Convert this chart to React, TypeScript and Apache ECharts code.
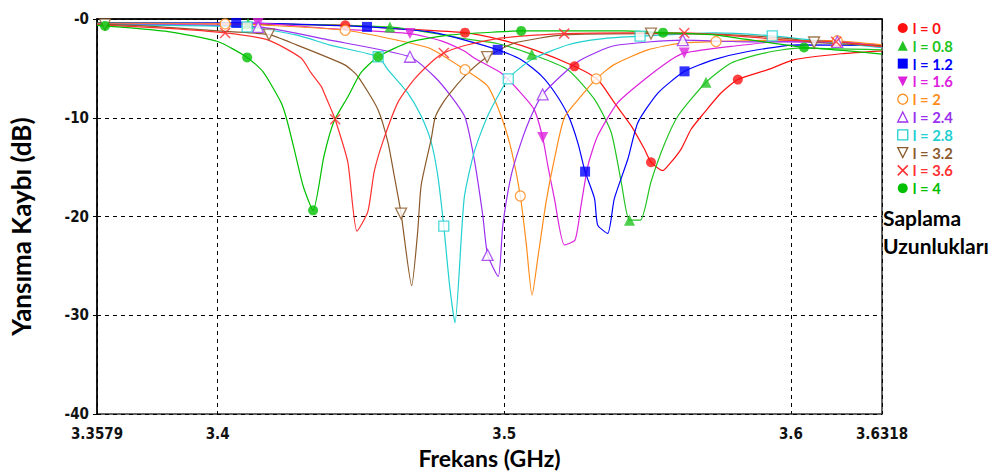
import React, { useEffect, useRef } from "react";
import * as echarts from "echarts";

// ---- Data (frequency in GHz, return loss in dB) ----
const seriesNames = ["l = 0", "l = 0.8", "l = 1.2", "l = 1.6", "l = 2", "l = 2.4", "l = 2.8", "l = 3.2", "l = 3.6", "l = 4"];
const xTickValues = [3.3579, 3.4, 3.5, 3.6, 3.6318];
const yMin = -40;
const yMax = 0;
const yStep = 10;

const l0Line = [[3.3579,-0.4],[3.3827,-0.45],[3.4,-0.5],[3.4445,-0.63],[3.4626,-0.97],[3.4863,-1.38],[3.4989,-2.11],[3.5105,-3.12],[3.5245,-4.79],[3.5326,-6.13],[3.5384,-8.47],[3.5443,-10.82],[3.5489,-13.17],[3.5512,-14.5],[3.5553,-15.35],[3.5582,-14.5],[3.5617,-13.17],[3.5652,-11.16],[3.5698,-9.48],[3.5757,-7.47],[3.5815,-6.13],[3.592,-5.13],[3.6013,-4.12],[3.6175,-3.52],[3.6318,-3.22]];
const l0Marks = [[3.4445,-0.63],[3.4863,-1.38],[3.5245,-4.79],[3.5512,-14.5],[3.5815,-6.13]];

const l08Line = [[3.3579,-0.4],[3.3827,-0.42],[3.4106,-0.45],[3.4601,-0.8],[3.4741,-1.38],[3.4859,-1.98],[3.4975,-2.48],[3.5096,-3.58],[3.5222,-5.13],[3.5315,-8.14],[3.5373,-11.46],[3.5408,-16.48],[3.5437,-20.37],[3.5475,-20.37],[3.5512,-16.48],[3.5559,-12.66],[3.5606,-9.82],[3.5704,-6.4],[3.5792,-4.45],[3.5908,-3.45],[3.6025,-2.94],[3.6318,-3.12]];
const l08Marks = [[3.4106,-0.45],[3.4601,-0.8],[3.5096,-3.58],[3.5437,-20.37],[3.5704,-6.4]];

const l12Line = [[3.3579,-0.45],[3.4065,-0.4],[3.4521,-0.8],[3.4741,-1.31],[3.4859,-2.11],[3.4977,-3.12],[3.5059,-4.12],[3.5129,-5.73],[3.5181,-7.64],[3.5226,-9.95],[3.5258,-12.66],[3.5282,-15.45],[3.5315,-18.19],[3.5326,-20.87],[3.5361,-21.71],[3.5384,-18.19],[3.5431,-14.2],[3.5466,-10.5],[3.5536,-7.5],[3.5629,-5.3],[3.5732,-4.12],[3.585,-3.29],[3.6025,-2.61],[3.6318,-2.71]];
const l12Marks = [[3.4065,-0.4],[3.4521,-0.8],[3.4977,-3.12],[3.5282,-15.45],[3.5629,-5.3]];

const l16Line = [[3.3579,-0.5],[3.4141,-0.45],[3.4392,-0.97],[3.4671,-1.48],[3.478,-2.21],[3.4859,-3.22],[3.4895,-3.95],[3.4989,-5.46],[3.5047,-7.14],[3.5104,-9.15],[3.5134,-11.99],[3.5152,-14.84],[3.5175,-18.19],[3.521,-22.88],[3.5247,-22.38],[3.5268,-18.86],[3.5292,-14.84],[3.5326,-11.83],[3.5396,-8.47],[3.5489,-6.13],[3.5582,-4.12],[3.5628,-3.45],[3.5792,-2.78],[3.5966,-2.28],[3.6318,-2.61]];
const l16Marks = [[3.4141,-0.45],[3.4671,-1.48],[3.5134,-11.99],[3.5628,-3.45]];

const l2Line = [[3.3579,-0.5],[3.4026,-0.5],[3.4445,-1.14],[3.4626,-2.14],[3.4741,-2.98],[3.4863,-5.13],[3.4942,-6.8],[3.4989,-9.82],[3.5024,-13.17],[3.5056,-17.92],[3.5076,-22.54],[3.5097,-27.97],[3.5117,-24.22],[3.5146,-18.52],[3.5175,-14.17],[3.521,-9.95],[3.5268,-7.81],[3.5321,-6.06],[3.5383,-4.62],[3.5501,-3.12],[3.5617,-2.44],[3.5739,-2.28],[3.5966,-2.14],[3.6162,-2.21],[3.6318,-2.61]];
const l2Marks = [[3.4026,-0.5],[3.4445,-1.14],[3.4863,-5.13],[3.5056,-17.92],[3.5321,-6.06],[3.5739,-2.28],[3.6162,-2.21]];

const l24Line = [[3.3579,-0.55],[3.4141,-0.8],[3.4392,-2.14],[3.4671,-3.82],[3.4755,-5.8],[3.4814,-7.81],[3.4863,-9.95],[3.4895,-14.17],[3.4925,-19.87],[3.4942,-23.89],[3.4979,-26.06],[3.4995,-20.87],[3.5024,-15.85],[3.5059,-12.46],[3.5094,-9.82],[3.5134,-7.64],[3.5209,-5.46],[3.5268,-4.12],[3.5383,-2.71],[3.5623,-2.14],[3.5851,-2.31],[3.6162,-2.31],[3.6318,-2.81]];
const l24Marks = [[3.4141,-0.8],[3.4671,-3.82],[3.4942,-23.89],[3.5134,-7.64],[3.5623,-2.14],[3.6162,-2.31]];

const l28Line = [[3.3579,-0.6],[3.3827,-0.65],[3.4103,-0.8],[3.4277,-1.64],[3.4392,-2.64],[3.456,-3.82],[3.4594,-5.13],[3.4663,-7.47],[3.471,-9.82],[3.4745,-12.46],[3.4768,-15.85],[3.4789,-20.97],[3.4809,-26.9],[3.4828,-30.75],[3.486,-18.19],[3.4895,-13.47],[3.4942,-9.82],[3.5014,-6.06],[3.5094,-4.12],[3.5223,-2.61],[3.5338,-2.01],[3.5474,-1.74],[3.5732,-1.41],[3.5935,-1.71],[3.613,-2.31],[3.6318,-2.91]];
const l28Marks = [[3.4103,-0.8],[3.456,-3.82],[3.4789,-20.97],[3.5014,-6.06],[3.5474,-1.74],[3.5935,-1.71]];

const l32Line = [[3.3579,-0.55],[3.3607,-0.55],[3.3827,-0.85],[3.4,-1.2],[3.4179,-1.58],[3.4277,-2.64],[3.4392,-3.99],[3.4448,-4.72],[3.4489,-5.8],[3.4559,-9.15],[3.4594,-12.46],[3.4616,-15.85],[3.464,-19.7],[3.4677,-27.0],[3.4698,-21.51],[3.471,-16.85],[3.4745,-12.16],[3.4759,-9.95],[3.4787,-8.44],[3.4821,-7.14],[3.4873,-5.46],[3.494,-3.85],[3.5034,-2.44],[3.5209,-1.61],[3.5512,-1.48],[3.5757,-1.56],[3.6001,-2.01],[3.6081,-2.38],[3.6318,-2.71]];
const l32Marks = [[3.3607,-0.55],[3.4179,-1.58],[3.464,-19.7],[3.494,-3.85],[3.5512,-1.48],[3.6081,-2.38]];

const l36Line = [[3.3579,-0.6],[3.3827,-0.95],[3.4026,-1.41],[3.4175,-2.11],[3.4291,-3.95],[3.4326,-5.46],[3.4361,-6.8],[3.4371,-7.44],[3.4396,-9.15],[3.441,-10.15],[3.4454,-14.47],[3.4486,-21.48],[3.4524,-19.5],[3.4546,-15.48],[3.4576,-12.46],[3.4629,-8.44],[3.4685,-6.13],[3.4755,-4.12],[3.4789,-3.45],[3.4859,-2.71],[3.4975,-1.98],[3.5094,-1.66],[3.5209,-1.48],[3.5418,-1.41],[3.5628,-1.41],[3.585,-1.81],[3.6001,-2.16],[3.6158,-2.31],[3.6318,-2.81]];
const l36Marks = [[3.4026,-1.41],[3.441,-10.15],[3.4789,-3.45],[3.5209,-1.48],[3.5628,-1.41],[3.6158,-2.31]];

const l4Line = [[3.3579,-0.65],[3.3607,-0.7],[3.3827,-1.28],[3.4,-2.28],[3.4103,-3.89],[3.4158,-5.33],[3.4221,-8.44],[3.4239,-9.95],[3.4267,-13.17],[3.4298,-16.88],[3.4333,-19.37],[3.4371,-13.87],[3.4406,-10.35],[3.4455,-7.84],[3.45,-5.43],[3.456,-3.82],[3.4671,-2.31],[3.4814,-1.61],[3.4975,-1.31],[3.5059,-1.21],[3.5418,-1.21],[3.5554,-1.38],[3.5732,-1.6],[3.59,-2.3],[3.6046,-2.88],[3.62,-3.22],[3.6318,-3.55]];
const l4Marks = [[3.3607,-0.7],[3.4103,-3.89],[3.4333,-19.37],[3.456,-3.82],[3.5059,-1.21],[3.5554,-1.38],[3.6046,-2.88]];

const lineData = [l0Line, l08Line, l12Line, l16Line, l2Line, l24Line, l28Line, l32Line, l36Line, l4Line];
const markData = [l0Marks, l08Marks, l12Marks, l16Marks, l2Marks, l24Marks, l28Marks, l32Marks, l36Marks, l4Marks];

// ---- Styles ----
const colors = ["#ff1010", "#22c422", "#0000ff", "#dd22dd", "#ff8c1a", "#9a30f0", "#22d0d0", "#8b5a2b", "#ff3030", "#00c000"];
const DOWN_TRI = "path://M0,0L10,0L5,10Z";
const CROSS = "path://M0,0L10,10M10,0L0,10";
const symbols = ["circle", "triangle", "rect", DOWN_TRI, "circle", "triangle", "rect", DOWN_TRI, CROSS, "circle"];
const kinds = ["fill", "fill", "fill", "fill", "hollow", "hollow", "hollow", "hollow", "cross", "fill"];
const symbolSizes = [10, 11, 10, 11, 10, 11, 10, 11, 10, 10];

const NARROW = "'Liberation Sans Narrow', 'DejaVu Sans Condensed', 'Liberation Sans', sans-serif";
const CAL = "Lato, 'Open Sans', sans-serif";

function markerStyle(i: number) {
  const c = colors[i];
  if (kinds[i] === "hollow") return { color: "#ffffff", borderColor: c, borderWidth: 1.3 };
  if (kinds[i] === "cross") return { color: "rgba(0,0,0,0)", borderColor: c, borderWidth: 1.5 };
  return { color: c, borderColor: c, borderWidth: 0 };
}

export default function App() {
  const ref = useRef<HTMLDivElement>(null);
  useEffect(() => {
    if (!ref.current) return;
    const chart = echarts.init(ref.current, undefined, { renderer: "svg" });
    const series: any[] = [];
    seriesNames.forEach((name, i) => {
      const merged = lineData[i].concat(markData[i]).slice().sort((a, b) => a[0] - b[0]);
      series.push({
        name,
        type: "line",
        data: merged,
        showSymbol: false,
        smooth: 0.2,
        lineStyle: { color: colors[i], width: 1.2 },
        itemStyle: { color: colors[i] },
        z: 2,
      });
      series.push({
        name,
        type: "scatter",
        data: markData[i],
        symbol: symbols[i],
        symbolSize: symbolSizes[i],
        itemStyle: markerStyle(i),
        z: 3,
      });
    });

    chart.setOption({
      animation: false,
      backgroundColor: "#ffffff",
      grid: {
        left: 96,
        right: 115,
        top: 19,
        bottom: 57,
        show: true,
        borderColor: "#333",
        borderWidth: 1.5,
        backgroundColor: "transparent",
      },
      legend: {
        orient: "vertical",
        left: 897,
        top: 20,
        padding: 0,
        itemWidth: 10,
        itemHeight: 10,
        itemGap: 1.8,
        selectedMode: false,
        textStyle: { fontFamily: CAL, fontWeight: "bold", fontSize: 14.8, lineHeight: 16 },
        data: seriesNames.map((n, i) => ({
          name: n,
          icon: symbols[i],
          itemStyle: markerStyle(i),
          textStyle: { color: colors[i] },
        })),
      },
      xAxis: {
        type: "value",
        min: xTickValues[0],
        max: xTickValues[xTickValues.length - 1],
        name: "Frekans (GHz)",
        nameLocation: "middle",
        nameGap: 31,
        nameTextStyle: { fontFamily: CAL, fontWeight: "bold", fontSize: 23, color: "#000" },
        axisLine: { lineStyle: { color: "#000", width: 1.5 } },
        axisTick: { show: true, length: 8, customValues: xTickValues, lineStyle: { color: "#000" } },
        axisLabel: {
          customValues: xTickValues,
          margin: 12,
          fontFamily: NARROW,
          fontWeight: "bold",
          fontSize: 15,
          color: "#111",
          formatter: (v: number) => String(v),
        },
        splitLine: { show: true, lineStyle: { color: "#000", type: [4, 4], width: 1 } },
      },
      yAxis: {
        type: "value",
        min: yMin,
        max: yMax,
        interval: yStep,
        name: "Yansıma Kaybı (dB)",
        nameLocation: "middle",
        nameRotate: 90,
        nameGap: 63,
        nameTextStyle: { fontFamily: CAL, fontWeight: "bold", fontSize: 26, color: "#000", padding: [0, 20, 0, 0] },
        axisLine: { show: true, lineStyle: { color: "#000", width: 1.5 } },
        axisTick: { show: true, length: 4, lineStyle: { color: "#000" } },
        axisLabel: {
          margin: 8,
          fontFamily: NARROW,
          fontWeight: "bold",
          fontSize: 15,
          color: "#111",
          formatter: (v: number) => (v === 0 ? "-0" : String(v)),
        },
        splitLine: { show: true, lineStyle: { color: "#000", type: [4, 4], width: 1 } },
      },
      graphic: [
        { type: "text", left: 883, top: 207, style: { text: "Saplama", fontFamily: CAL, fontWeight: "bold", fontSize: 21, fill: "#000" } },
        { type: "text", left: 883, top: 235, style: { text: "Uzunlukları", fontFamily: CAL, fontWeight: "bold", fontSize: 21, fill: "#000" } },
      ],
      series,
    });
    return () => chart.dispose();
  }, []);
  return <div ref={ref} style={{ position: "fixed", left: 0, top: 0, width: 997, height: 474, background: "#fff" }} />;
}
